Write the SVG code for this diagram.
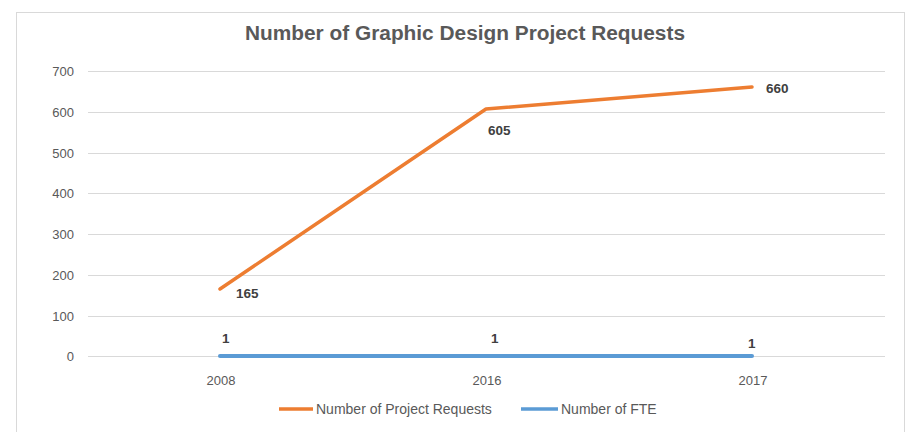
<svg xmlns="http://www.w3.org/2000/svg" width="910" height="432" viewBox="0 0 910 432">
<style>
.grid{stroke:#d9d9d9;stroke-width:1}
.ax{font-family:"Liberation Sans",Arial,sans-serif;font-size:13px;fill:#595959}
.leg{font-family:"Liberation Sans",Arial,sans-serif;font-size:14px;fill:#595959}
.lbl{font-family:"Liberation Sans",Arial,sans-serif;font-size:13.5px;font-weight:bold;fill:#404040}
.title{font-family:"Liberation Sans",Arial,sans-serif;font-size:20px;font-weight:bold;fill:#595959}
</style>
<rect x="0" y="0" width="910" height="432" fill="#ffffff"/>
<rect x="16.5" y="12.5" width="888" height="425" fill="#ffffff" stroke="#d9d9d9" stroke-width="1"/>
<text class="title" x="465" y="40" text-anchor="middle" textLength="440" lengthAdjust="spacingAndGlyphs">Number of Graphic Design Project Requests</text>
<g id="gridlines">
<line class="grid" x1="88" y1="71.5" x2="885" y2="71.5"/>
<line class="grid" x1="88" y1="112.5" x2="885" y2="112.5"/>
<line class="grid" x1="88" y1="153.5" x2="885" y2="153.5"/>
<line class="grid" x1="88" y1="193.5" x2="885" y2="193.5"/>
<line class="grid" x1="88" y1="234.5" x2="885" y2="234.5"/>
<line class="grid" x1="88" y1="275.5" x2="885" y2="275.5"/>
<line class="grid" x1="88" y1="316.5" x2="885" y2="316.5"/>
<line class="grid" x1="88" y1="356.5" x2="885" y2="356.5"/>
</g>
<g id="y-axis">
<text class="ax" x="74" y="76" text-anchor="end">700</text>
<text class="ax" x="74" y="117" text-anchor="end">600</text>
<text class="ax" x="74" y="158" text-anchor="end">500</text>
<text class="ax" x="74" y="198" text-anchor="end">400</text>
<text class="ax" x="74" y="239" text-anchor="end">300</text>
<text class="ax" x="74" y="280" text-anchor="end">200</text>
<text class="ax" x="74" y="321" text-anchor="end">100</text>
<text class="ax" x="74" y="361" text-anchor="end">0</text>
</g>
<g id="x-axis">
<text class="ax" x="221" y="385" text-anchor="middle">2008</text>
<text class="ax" x="487" y="385" text-anchor="middle">2016</text>
<text class="ax" x="753" y="385" text-anchor="middle">2017</text>
</g>
<g id="connectors">
<polyline id="series-requests" points="220,289 486,109 752,87" fill="none" stroke="#ed7d31" stroke-width="3.5" stroke-linecap="round" stroke-linejoin="round"/>
<polyline id="series-fte" points="220,356 752,356" fill="none" stroke="#5b9bd5" stroke-width="4" stroke-linecap="round"/>
</g>
<g id="data-labels">
<text class="lbl" x="236" y="298">165</text>
<text class="lbl" x="488" y="135">605</text>
<text class="lbl" x="766" y="93">660</text>
<text class="lbl" x="222" y="343">1</text>
<text class="lbl" x="491" y="343">1</text>
<text class="lbl" x="748" y="348">1</text>
</g>
<g id="legend">
<line x1="279" y1="409" x2="313" y2="409" stroke="#ed7d31" stroke-width="3.5"/>
<text class="leg" x="316" y="414">Number of Project Requests</text>
<line x1="521" y1="409" x2="558" y2="409" stroke="#5b9bd5" stroke-width="3.5"/>
<text class="leg" x="561" y="414">Number of FTE</text>
</g>
</svg>
